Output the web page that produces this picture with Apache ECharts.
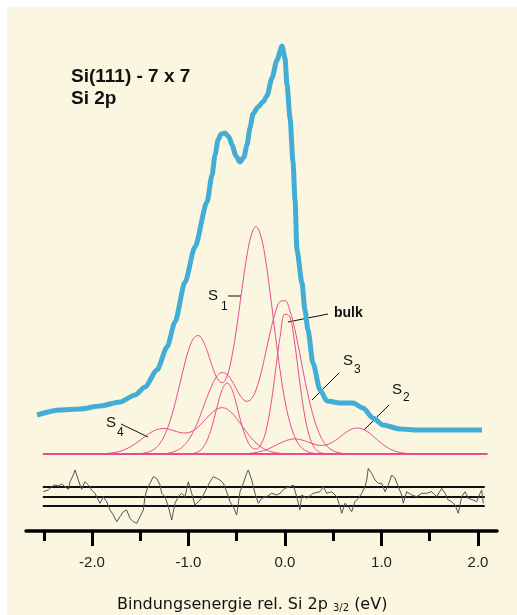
<!DOCTYPE html>
<html><head><meta charset="utf-8">
<script src="https://cdn.jsdelivr.net/npm/echarts@6/dist/echarts.min.js"></script>
<style>html,body{margin:0;padding:0;background:#fff}#c{width:517px;height:615px}</style>
</head><body><div id="c"></div>
<script>
// ---- data (energy in eV, intensity in arbitrary units) ----
const pinkEv = [-1.90,-1.85,-1.80,-1.75,-1.70,-1.65,-1.60,-1.55,-1.50,-1.45,-1.40,-1.35,-1.30,-1.25,-1.20,-1.15,-1.10,-1.05,-1.00,-0.95,-0.90,-0.85,-0.80,-0.75,-0.70,-0.65,-0.60,-0.55,-0.50,-0.45,-0.40,-0.35,-0.30,-0.25,-0.20,-0.15,-0.10,-0.05,0.00,0.05,0.10,0.15,0.20,0.25,0.30,0.35,0.40,0.45,0.50,0.55,0.60,0.65,0.70,0.75,0.80,0.85,0.90,0.95,1.00,1.05,1.10,1.15,1.20,1.25,1.30,1.35];
const compS4 = [0,0.5,1.0,1.8,3.0,4.9,7.3,10.4,13.9,17.5,20.9,23.6,25.1,25.5,24.7,23.3,21.8,21.0,21.4,23.4,27.1,31.8,37.2,41.9,45.2,46.3,44.8,40.9,35.4,28.8,22.2,16.1,11.0,7.1,4.3,2.5,1.3,0.7,0.3,0,0,0,0,0,0,0,0,0,0,0,0,0,0,0,0,0,0,0,0,0,0,0,0,0,0,0];
const compS1 = [0,0,0,0,0,0,0,0,0.4,1.1,2.5,5.2,10.1,18.3,30.4,46.6,66.0,86.0,103.7,115.3,118.5,113.1,101.2,86.7,75.2,71.2,78.1,97.5,127.0,161.9,195.0,218.7,227.3,217.9,193.2,158.0,119.2,82.9,53.1,31.6,17.3,8.6,4.1,1.7,0.7,0,0,0,0,0,0,0,0,0,0,0,0,0,0,0,0,0,0,0,0,0];
const compS3 = [0,0,0,0,0,0,0,0,0,0,0,0,0,0,1.1,2.3,4.5,8.2,14.0,22.4,33.1,45.7,58.7,70.2,78.4,81.5,79.4,73.0,64.4,56.6,52.7,54.9,64.2,80.4,101.4,123.2,141.5,152.5,153.3,143.5,125.4,101.8,77.0,54.2,35.6,21.7,12.3,6.5,3.2,1.5,0.6,0,0,0,0,0,0,0,0,0,0,0,0,0,0,0];
const compBulk = [0,0,0,0,0,0,0,0,0,0,0,0,0,0,0,0,0,0,0,0.6,2.2,6.4,15.3,29.9,48.4,64.5,71.0,64.5,48.4,29.9,15.5,7.1,4.9,9.3,22.1,46.7,81.7,117.6,139.9,137.2,111.0,74.1,40.9,18.6,7.0,2.1,0.6,0,0,0,0,0,0,0,0,0,0,0,0,0,0,0,0,0,0,0];
const compS2 = [0,0,0,0,0,0,0,0,0,0,0,0,0,0,0,0,0,0,0,0,0,0,0,0,0,0,0,0,0,0.2,0.4,0.8,1.5,2.6,4.1,6.1,8.5,10.9,13.0,14.5,15.1,14.6,13.3,11.6,9.9,8.7,8.6,9.8,12.1,15.5,19.3,22.7,25.2,26.0,25.1,22.5,18.9,14.7,10.6,7.2,4.5,2.6,1.4,0.7,0.3,0.2];

const baseEv = [-2.51, 2.10];
const baseVal = [0, 0];

const blueEv = [-2.570,-2.332,-2.124,-1.917,-1.710,-1.554,-1.451,-1.326,-1.222,-1.140,-1.036,-0.933,-0.808,-0.756,-0.725,-0.694,-0.663,-0.622,-0.580,-0.549,-0.508,-0.466,-0.425,-0.394,-0.363,-0.332,-0.280,-0.228,-0.187,-0.135,-0.083,-0.031,0.000,0.021,0.052,0.083,0.104,0.124,0.176,0.207,0.238,0.290,0.363,0.435,0.570,0.705,0.808,0.912,1.016,1.192,1.368,2.041];
const blueVal = [39,44,45,48,52,59,67,84,107,132,172,207,252,279,299,314,320,321,317,309,298,292,297,309,326,340,347,352,358,376,394,408,396,369,336,292,254,204,171,144,124,91,64,53,51,51,46,36,29,25,24,24];

const resEv = [-2.505,-2.453,-2.418,-2.383,-2.349,-2.314,-2.280,-2.245,-2.228,-2.194,-2.176,-2.159,-2.124,-2.107,-2.073,-2.038,-2.003,-1.969,-1.935,-1.917,-1.883,-1.848,-1.813,-1.779,-1.744,-1.710,-1.676,-1.641,-1.606,-1.572,-1.537,-1.503,-1.468,-1.451,-1.433,-1.399,-1.365,-1.330,-1.295,-1.278,-1.244,-1.209,-1.174,-1.140,-1.106,-1.071,-1.036,-1.002,-0.967,-0.933,-0.898,-0.863,-0.829,-0.777,-0.743,-0.708,-0.674,-0.639,-0.604,-0.570,-0.536,-0.501,-0.466,-0.432,-0.397,-0.380,-0.345,-0.311,-0.277,-0.242,-0.190,-0.138,-0.086,-0.052,0.000,0.052,0.086,0.121,0.155,0.173,0.225,0.293,0.363,0.397,0.432,0.484,0.536,0.570,0.588,0.622,0.656,0.691,0.725,0.760,0.795,0.829,0.847,0.863,0.898,0.933,0.967,1.002,1.036,1.071,1.106,1.140,1.174,1.209,1.226,1.261,1.313,1.365,1.417,1.468,1.520,1.572,1.624,1.658,1.692,1.727,1.762,1.796,1.831,1.865,1.900,1.951,1.986,2.021,2.038,2.055];
const resVal = [-37.7,-36,-32.7,-31,-32,-30,-32.7,-35.3,-27.7,-21,-16,-21,-31,-35.3,-27.7,-31,-36,-39.3,-46,-49.3,-42.7,-47.7,-56,-61,-67.7,-62.7,-57.7,-56,-64.3,-67.7,-69.3,-62.7,-56,-42.7,-36,-29.3,-22.7,-24.3,-31,-39.3,-42.7,-52.7,-66,-49.3,-42.7,-39.3,-42.7,-27.7,-39.3,-51,-47.7,-44.3,-37.7,-27.7,-22.7,-24.3,-26,-29.3,-37.7,-47.7,-52.7,-61,-37.7,-29.3,-19.3,-16,-26,-39.3,-49.3,-44.3,-42.7,-39.3,-41,-39.3,-34.3,-32.7,-31,-42.7,-56,-41,-44.3,-39.3,-37.7,-32.7,-39.3,-37.7,-42.7,-52.7,-59.3,-49.3,-52.7,-57.7,-47.7,-44.3,-39.3,-32.7,-26,-14.3,-19.3,-26,-29.3,-29.3,-37.7,-31,-21,-24.3,-32.7,-41,-49.3,-37.7,-41,-42.7,-39.3,-39.3,-37.7,-42.7,-34.3,-39.3,-46,-47.7,-51,-59.3,-42.7,-37.7,-44.3,-46,-47.7,-39.3,-36,-49.3];

const refEv = [-2.51, 2.07];
const refLevels = [-33, -43, -52];

const majorTicks = [-2, -1, 0, 1, 2];
const minorTicks = [-2.5, -1.5, -0.5, 0.5, 1.5];

// ---- build ----
const zip = (xs, ys) => xs.map((x, i) => [x, ys[i]]);
const FONT = 'Liberation Sans, Arial, Helvetica, sans-serif';
const WIDE = 'DejaVu Sans, Liberation Sans, sans-serif';
const PINK = '#ea4b8d';

const pinkSeries = [compS4, compS1, compS3, compBulk, compS2].map(c => ({
  type: 'line', data: zip(pinkEv, c), showSymbol: false, smooth: 0.4,
  lineStyle: { color: PINK, width: 1 }, z: 3, silent: true
}));

const refSeries = refLevels.map(v => ({
  type: 'line', data: zip(refEv, [v, v]), showSymbol: false,
  lineStyle: { color: '#111', width: 1.8 }, z: 3, silent: true
}));

const xRange = { min: -2.684, max: 2.197 };

const chart = echarts.init(document.getElementById('c'), null, { renderer: 'canvas' });
chart.setOption({
  animation: false,
  backgroundColor: '#ffffff',
  grid: { left: 26, right: 20, top: 8, bottom: 84, containLabel: false },
  xAxis: [
    { type: 'value', min: xRange.min, max: xRange.max, position: 'bottom',
      axisLine: { show: true, onZero: false, lineStyle: { color: '#000', width: 3.5 } },
      axisTick: { show: true, customValues: minorTicks, length: 10, lineStyle: { color: '#000', width: 3 } },
      axisLabel: { show: false }, splitLine: { show: false } },
    { type: 'value', min: xRange.min, max: xRange.max, position: 'bottom',
      axisLine: { show: false, onZero: false },
      axisTick: { show: true, customValues: majorTicks, length: 15, lineStyle: { color: '#000', width: 3 } },
      axisLabel: { show: true, customValues: majorTicks, margin: 24, fontSize: 15, color: '#222', fontFamily: FONT,
        formatter: v => Number(v).toFixed(1) },
      splitLine: { show: false } }
  ],
  yAxis: { type: 'value', min: -77, max: 446, show: false },
  title: [
    { text: 'Si(111) - 7 x 7\nSi 2p', left: 66, top: 61,
      textStyle: { fontSize: 19, fontWeight: 'bold', lineHeight: 22, color: '#111', fontFamily: FONT } },
    { text: '{a|Bindungsenergie rel. Si 2p }{s|3/2}{a| (eV)}', left: 112, top: 588,
      textStyle: { fontFamily: WIDE, fontWeight: 'normal', rich: {
        a: { fontSize: 16, lineHeight: 20, verticalAlign: 'bottom', color: '#111', fontFamily: WIDE, fontWeight: 'normal' },
        s: { fontSize: 10, lineHeight: 6, verticalAlign: 'bottom', color: '#111', fontFamily: WIDE, fontWeight: 'normal' } } } }
  ],
  graphic: [
    { type: 'rect', shape: { x: 7, y: 7, width: 510, height: 608 }, style: { fill: '#fbf6df' }, z: -100, silent: true },
    // annotation labels
    { type: 'text', x: 208, y: 296, style: { text: 'S', fontSize: 15, fontFamily: FONT, fill: '#111', verticalAlign: 'middle' } },
    { type: 'text', x: 221, y: 307, style: { text: '1', fontSize: 12, fontFamily: FONT, fill: '#111', verticalAlign: 'middle' } },
    { type: 'line', shape: { x1: 228, y1: 296, x2: 241, y2: 296 }, style: { stroke: '#111', lineWidth: 1 } },
    { type: 'text', x: 334, y: 313, style: { text: 'bulk', fontSize: 14, fontWeight: 'bold', fontFamily: FONT, fill: '#111', verticalAlign: 'middle' } },
    { type: 'line', shape: { x1: 288, y1: 322, x2: 328, y2: 314 }, style: { stroke: '#111', lineWidth: 1 } },
    { type: 'text', x: 343, y: 361, style: { text: 'S', fontSize: 15, fontFamily: FONT, fill: '#111', verticalAlign: 'middle' } },
    { type: 'text', x: 354, y: 370, style: { text: '3', fontSize: 12, fontFamily: FONT, fill: '#111', verticalAlign: 'middle' } },
    { type: 'line', shape: { x1: 339, y1: 373, x2: 312, y2: 400 }, style: { stroke: '#111', lineWidth: 1 } },
    { type: 'text', x: 392, y: 390, style: { text: 'S', fontSize: 15, fontFamily: FONT, fill: '#111', verticalAlign: 'middle' } },
    { type: 'text', x: 403, y: 398, style: { text: '2', fontSize: 12, fontFamily: FONT, fill: '#111', verticalAlign: 'middle' } },
    { type: 'line', shape: { x1: 389, y1: 405, x2: 364, y2: 430 }, style: { stroke: '#111', lineWidth: 1 } },
    { type: 'text', x: 106, y: 423, style: { text: 'S', fontSize: 15, fontFamily: FONT, fill: '#111', verticalAlign: 'middle' } },
    { type: 'text', x: 117, y: 433, style: { text: '4', fontSize: 12, fontFamily: FONT, fill: '#111', verticalAlign: 'middle' } },
    { type: 'line', shape: { x1: 121, y1: 424, x2: 148, y2: 437 }, style: { stroke: '#111', lineWidth: 1 } }
  ],
  series: [
    ...pinkSeries,
    { type: 'line', data: zip(baseEv, baseVal), showSymbol: false, lineStyle: { color: PINK, width: 2 }, z: 3, silent: true },
    ...refSeries,
    { type: 'line', data: zip(resEv, resVal), showSymbol: false, lineStyle: { color: '#555', width: 1 }, z: 4, silent: true },
    { type: 'line', data: zip(blueEv, blueVal), showSymbol: false, smooth: 0.25, smoothMonotone: 'x',
      lineStyle: { color: '#42aed5', width: 5 }, z: 5, silent: true }
  ]
});
</script>
</body></html>
